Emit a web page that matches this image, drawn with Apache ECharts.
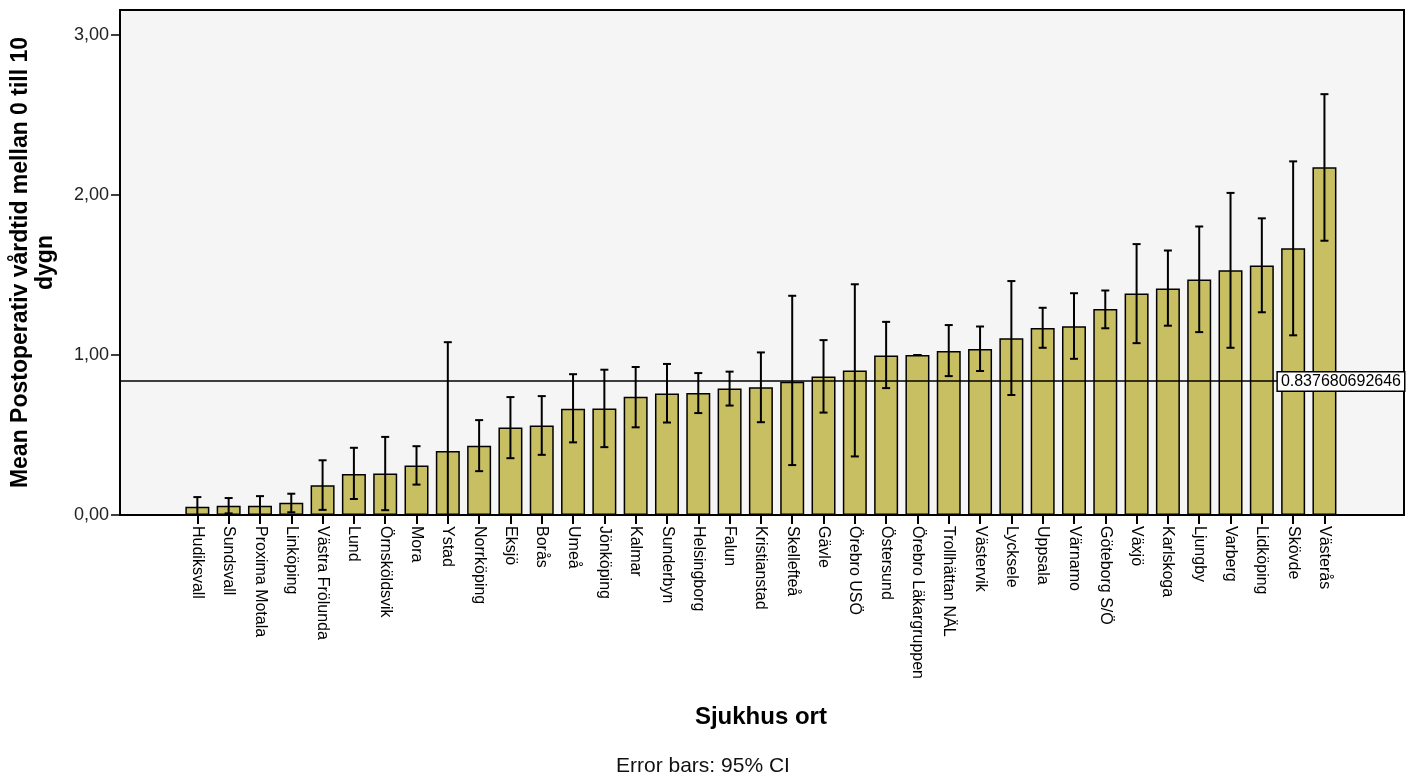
<!DOCTYPE html>
<html>
<head>
<meta charset="utf-8">
<script src="https://cdn.jsdelivr.net/npm/echarts@6/dist/echarts.min.js"></script>
<style>
html,body{margin:0;padding:0;background:#fff;}
#chart{width:1416px;height:778px;}
</style>
</head>
<body>
<div id="chart"></div>
<script>
var hospitals = ['Hudiksvall','Sundsvall','Proxima Motala','Linköping','Västra Frölunda','Lund','Örnsköldsvik','Mora','Ystad','Norrköping','Eksjö','Borås','Umeå','Jönköping','Kalmar','Sunderbyn','Helsingborg','Falun','Kristianstad','Skellefteå','Gävle','Örebro USÖ','Östersund','Örebro Läkargruppen','Trollhättan NÄL','Västervik','Lycksele','Uppsala','Värnamo','Göteborg S/Ö','Växjö','Karlskoga','Ljungby','Varberg','Lidköping','Skövde','Västerås'];
var means = [0.052,0.058,0.058,0.076,0.186,0.257,0.259,0.310,0.400,0.432,0.547,0.560,0.664,0.666,0.739,0.760,0.762,0.790,0.799,0.833,0.866,0.903,0.997,1.000,1.025,1.037,1.105,1.169,1.180,1.287,1.385,1.416,1.472,1.530,1.560,1.667,2.173];
var ciUpper = [0.112,0.106,0.118,0.133,0.342,0.420,0.488,0.430,1.080,0.593,0.737,0.743,0.880,0.908,0.925,0.944,0.887,0.896,1.016,1.370,1.093,1.442,1.207,1.000,1.187,1.178,1.462,1.295,1.386,1.403,1.693,1.653,1.803,2.013,1.854,2.210,2.630];
var ciLower = [-0.008,0.010,-0.002,0.017,0.032,0.100,0.030,0.190,-0.280,0.274,0.355,0.376,0.454,0.424,0.548,0.578,0.637,0.684,0.580,0.312,0.640,0.366,0.793,1.000,0.868,0.900,0.750,1.045,0.976,1.167,1.074,1.183,1.143,1.045,1.267,1.123,1.714];
var yTicks = [0,1,2,3];
var overallMean = 0.837680692646;
var yTitle = 'Mean Postoperativ vårdtid mellan 0 till 10\ndygn';
var xTitle = 'Sjukhus ort';
var footnote = 'Error bars: 95% CI';

var YMAX = 3.156;
var FONT = 'Liberation Sans, Arial, sans-serif';
var chart = echarts.init(document.getElementById('chart'), null, {renderer:'canvas'});

var errData = hospitals.map(function(h,i){ return [i, ciLower[i], ciUpper[i]]; });

chart.setOption({
  animation:false,
  backgroundColor:'#ffffff',
  textStyle:{fontFamily:FONT},
  title:{
    text:footnote, left:611, top:751,
    textStyle:{fontFamily:FONT, fontSize:21, fontWeight:'normal', color:'#111'}
  },
  grid:[
    {left:118, right:12, top:10, bottom:263, show:true, backgroundColor:'#F5F5F5', borderColor:'#000', borderWidth:2},
    {left:181.7, right:75.9, top:10, bottom:263, show:false}
  ],
  xAxis:[
    {gridIndex:0, type:'value', min:0, max:1, show:false},
    {gridIndex:1, type:'category', data:hospitals,
     axisLine:{show:false},
     axisTick:{show:true, alignWithLabel:true, length:9, lineStyle:{color:'#000', width:2}},
     axisLabel:{rotate:-90, fontSize:16, color:'#000', margin:11, fontFamily:FONT, interval:0},
     name:xTitle, nameLocation:'middle', nameGap:190,
     nameTextStyle:{fontFamily:FONT, fontSize:24, fontWeight:'bold', color:'#000'}
    }
  ],
  yAxis:[
    {gridIndex:0, type:'value', min:0, max:YMAX,
     axisLine:{show:true, lineStyle:{color:'#000', width:2}},
     axisTick:{show:true, length:9, customValues:yTicks, lineStyle:{color:'#000', width:1.5}},
     axisLabel:{customValues:yTicks, fontSize:18, color:'#222', margin:11, fontFamily:FONT,
       formatter:function(v){ return v.toFixed(2).replace('.', ','); }},
     splitLine:{show:false},
     name:yTitle, nameLocation:'middle', nameGap:62, nameRotate:90,
     nameTextStyle:{fontFamily:FONT, fontSize:23, fontWeight:'bold', color:'#000', lineHeight:25, align:'center'}
    },
    {gridIndex:1, type:'value', min:0, max:YMAX, show:false}
  ],
  series:[
    {
      type:'bar', xAxisIndex:1, yAxisIndex:1, data:means, barWidth:24,
      itemStyle:{color:'#C8BE62', borderColor:'#000', borderWidth:1.5},
      z:2
    },
    {
      type:'custom', xAxisIndex:1, yAxisIndex:1, data:errData, clip:true, z:4,
      renderItem:function(params, api){
        var x = api.value(0), lo = api.value(1), hi = api.value(2);
        var pHi = api.coord([x, hi]);
        var pLo = api.coord([x, lo]);
        var hw = 4;
        var st = {stroke:'#000', lineWidth:2};
        return {type:'group', children:[
          {type:'line', shape:{x1:pHi[0], y1:pHi[1], x2:pLo[0], y2:pLo[1]}, style:st},
          {type:'line', shape:{x1:pHi[0]-hw, y1:pHi[1], x2:pHi[0]+hw, y2:pHi[1]}, style:st},
          {type:'line', shape:{x1:pLo[0]-hw, y1:pLo[1], x2:pLo[0]+hw, y2:pLo[1]}, style:st}
        ]};
      }
    },
    {
      type:'line', xAxisIndex:0, yAxisIndex:0, data:[], z:6,
      markLine:{
        silent:true, symbol:['none','none'],
        lineStyle:{color:'#000', type:'solid', width:1.5},
        label:{show:true, position:'insideEndTop', distance:[0,-10],
          formatter:function(){ return String(overallMean); },
          fontFamily:FONT, fontSize:16, color:'#000',
          backgroundColor:'#fff', borderColor:'#000', borderWidth:1.5, padding:[1,3,1,3]},
        data:[{yAxis:overallMean}]
      }
    }
  ]
});
</script>
</body>
</html>
